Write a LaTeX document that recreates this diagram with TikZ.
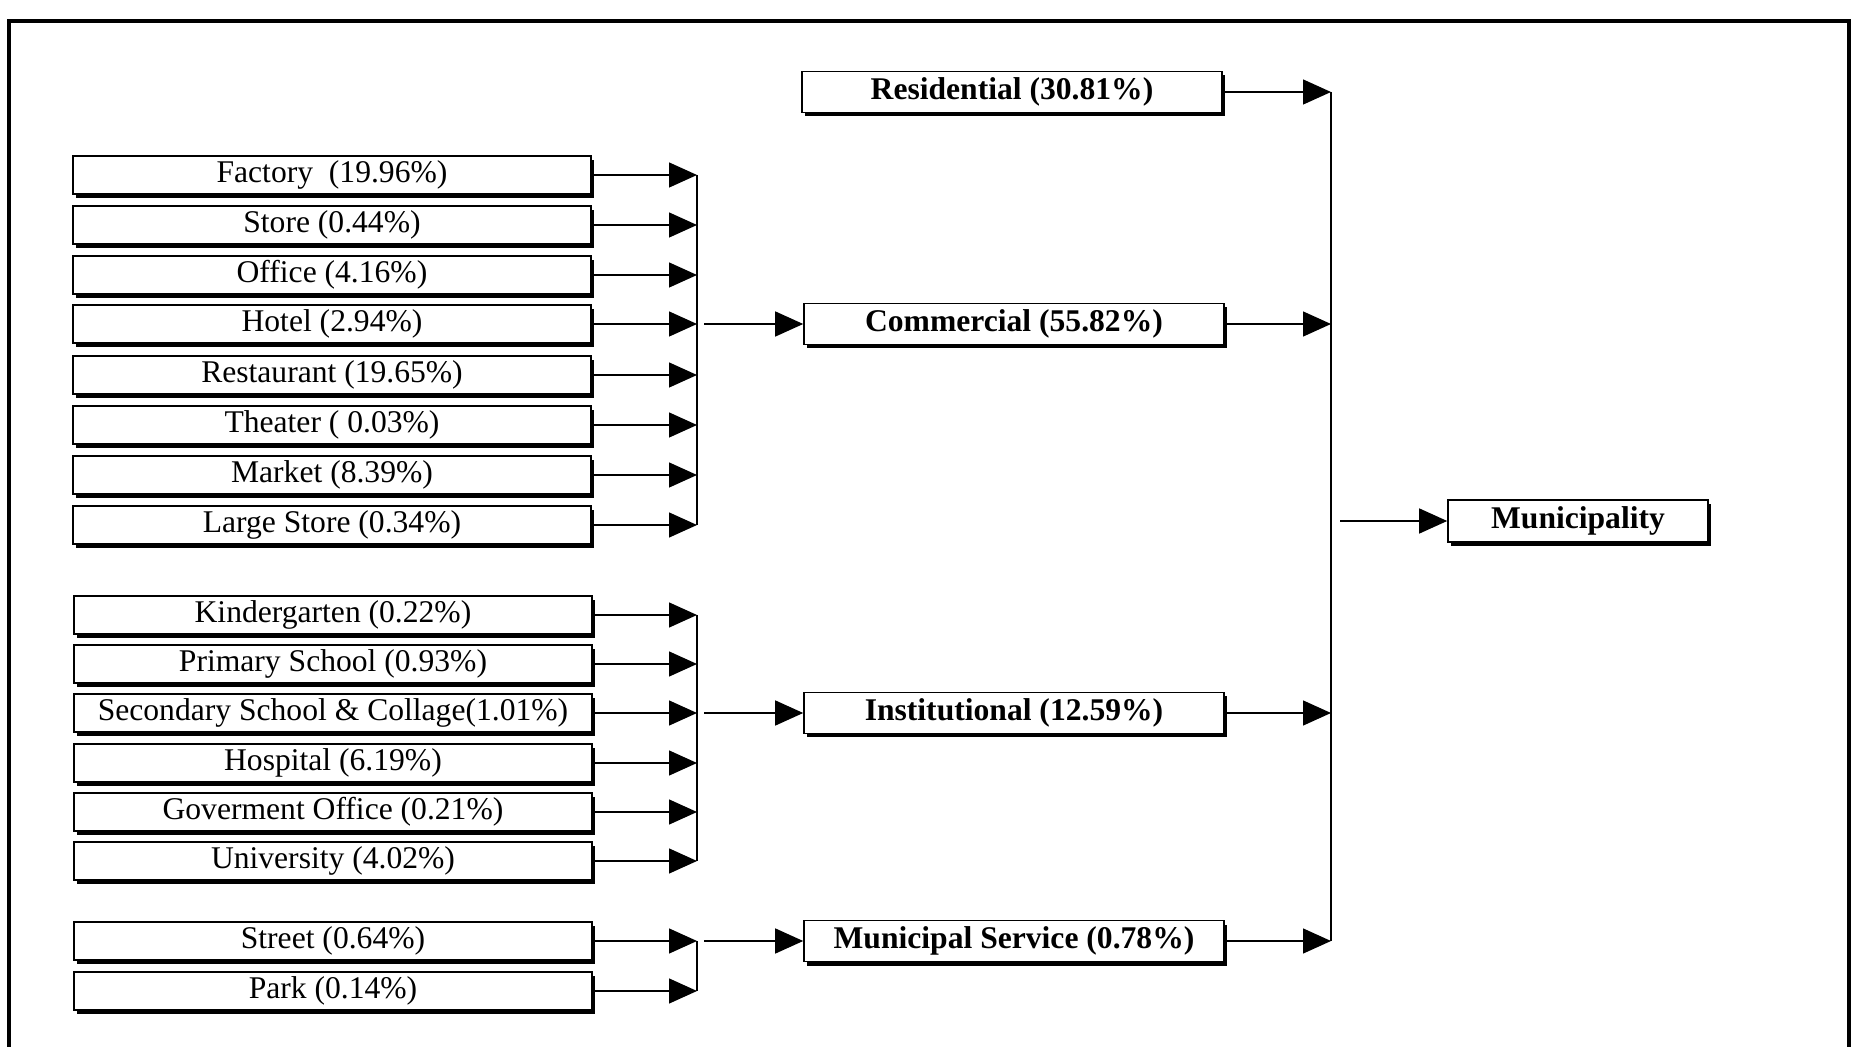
\documentclass[tikz,border=0pt]{standalone}
\usepackage{fontspec}
\setmainfont{Liberation Serif}
\usetikzlibrary{arrows.meta,shadows}
\begin{document}
\begin{tikzpicture}[x=0.5pt,y=-0.5pt,
  box/.style={draw=black, fill=white, line width=0.8pt, inner sep=0pt,
    font=\fontsize{15.8}{18}\selectfont,
    drop shadow={shadow xshift=1.5pt, shadow yshift=-2pt, fill=black, opacity=1}},
  leftbox/.style={box, minimum width=259pt, minimum height=19pt},
  midbox/.style={box, minimum width=210pt, minimum height=20.5pt, font=\fontsize{15.8}{18}\selectfont\bfseries},
  endbox/.style={box, minimum width=130pt, minimum height=21pt, font=\fontsize{15.8}{18}\selectfont\bfseries},
  conn/.style={line width=0.7pt, -{Triangle[length=14pt,width=12.5pt]}},
  bar/.style={line width=0.7pt}]
\useasboundingbox (0,0) rectangle (1854,1047);
\fill[white] (0,0) rectangle (1854,1047);
% frame
\draw[line width=1.6pt] (9,1047) -- (9,21) -- (1849,21) -- (1849,1047);

% left boxes: commercial group
\node[leftbox] (f1) at (332,175) {Factory\ \ (19.96\%)};
\node[leftbox] (f2) at (332,225) {Store (0.44\%)};
\node[leftbox] (f3) at (332,275) {Office (4.16\%)};
\node[leftbox] (f4) at (332,324) {Hotel (2.94\%)};
\node[leftbox] (f5) at (332,375) {Restaurant (19.65\%)};
\node[leftbox] (f6) at (332,425) {Theater ( 0.03\%)};
\node[leftbox] (f7) at (332,475) {Market (8.39\%)};
\node[leftbox] (f8) at (332,525) {Large Store (0.34\%)};

% institutional group
\node[leftbox] (i1) at (333,615) {Kindergarten (0.22\%)};
\node[leftbox] (i2) at (333,664) {Primary School (0.93\%)};
\node[leftbox] (i3) at (333,713) {Secondary School \& Collage(1.01\%)};
\node[leftbox] (i4) at (333,763) {Hospital (6.19\%)};
\node[leftbox] (i5) at (333,812) {Goverment Office (0.21\%)};
\node[leftbox] (i6) at (333,861) {University (4.02\%)};

% municipal service group
\node[leftbox] (s1) at (333,941) {Street (0.64\%)};
\node[leftbox] (s2) at (333,991) {Park (0.14\%)};

% middle boxes
\node[midbox] (res) at (1012,92) {Residential (30.81\%)};
\node[midbox] (com) at (1014,324) {Commercial (55.82\%)};
\node[midbox] (ins) at (1014,713) {Institutional (12.59\%)};
\node[midbox] (mun) at (1014,941) {Municipal Service (0.78\%)};

% final box
\node[endbox] (muni) at (1578,521) {Municipality};

% collector bars
\coordinate (bx1) at (697,0);
\coordinate (bx2) at (1331,0);

\foreach \n in {f1,f2,f3,f4,f5,f6,f7,f8,i1,i2,i3,i4,i5,i6,s1,s2}
  \draw[conn] (\n.east) -- (\n.east -| bx1);
\draw[bar] (f1.east -| bx1) -- (f8.east -| bx1);
\draw[bar] (i1.east -| bx1) -- (i6.east -| bx1);
\draw[bar] (s1.east -| bx1) -- (s2.east -| bx1);

\draw[conn] ([xshift=3.5pt]com.west -| bx1) -- (com.west);
\draw[conn] ([xshift=3.5pt]ins.west -| bx1) -- (ins.west);
\draw[conn] ([xshift=3.5pt]mun.west -| bx1) -- (mun.west);

\foreach \n in {res,com,ins,mun}
  \draw[conn] (\n.east) -- (\n.east -| bx2);
\draw[bar] (res.east -| bx2) -- (mun.east -| bx2);
\draw[conn] ([xshift=4.5pt]muni.west -| bx2) -- (muni.west);
\end{tikzpicture}
\end{document}
